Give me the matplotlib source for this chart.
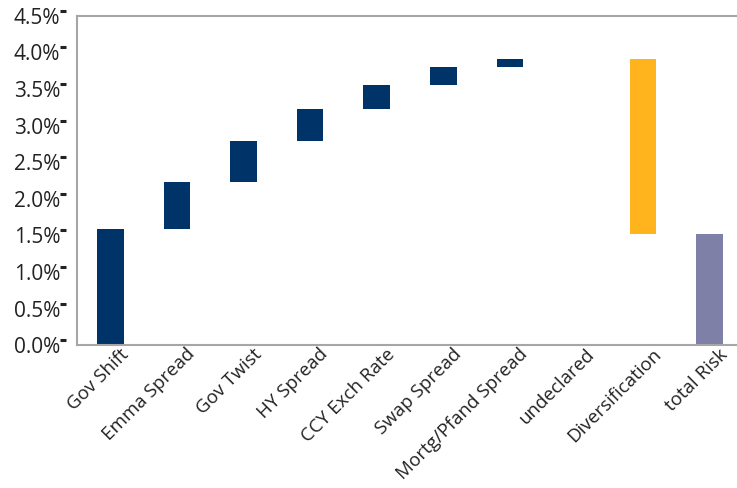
import matplotlib
matplotlib.use("Agg")
import matplotlib.pyplot as plt
import matplotlib.transforms as mtransforms
from matplotlib.ticker import FuncFormatter
import numpy as np

plt.rcParams['font.family'] = ['Open Sans', 'DejaVu Sans']

categories = ["Gov Shift", "Emma Spread", "Gov Twist", "HY Spread", "CCY Exch Rate",
              "Swap Spread", "Mortg/Pfand Spread", "undeclared", "Diversification", "total Risk"]
# contributions in % (waterfall deltas); last item is the total
deltas = [1.59, 0.64, 0.56, 0.43, 0.33, 0.25, 0.11, 0.00, -2.39]
total = 1.52
yticks = [0.0, 0.5, 1.0, 1.5, 2.0, 2.5, 3.0, 3.5, 4.0, 4.5]

c_risk = "#003468"
c_div = "#FFB41E"
c_total = "#7F80A8"

fig = plt.figure(figsize=(7.37, 4.88), dpi=100)
W, H = 737, 488
ax = fig.add_axes([77 / W, (488 - 345.3) / H, (743 - 77) / W, (345.3 - 15.7) / H])

cum = 0.0
for i, d in enumerate(deltas):
    if d >= 0:
        bottom, height = cum, d
    else:
        bottom, height = cum + d, -d
    color = c_div if d < 0 else c_risk
    if height > 0:
        ax.bar(i, height, bottom=bottom, width=0.4, color=color, zorder=2)
    cum += d
ax.bar(len(deltas), total, bottom=0, width=0.4, color=c_total, zorder=2)

ax.set_xlim(-0.5, len(categories) - 0.5)
ax.set_ylim(0, 4.5)
ax.set_yticks(yticks)
ax.yaxis.set_major_formatter(FuncFormatter(lambda v, p: f"{v:.1f}%"))
ax.tick_params(axis='y', length=0, pad=12, labelsize=15, labelcolor="#222222")

ax.set_xticks(range(len(categories)))
ax.set_xticklabels(categories, rotation=45, ha='right', va='top', rotation_mode='anchor',
                   fontsize=13.5, color="#222222")
ax.tick_params(axis='x', length=0, pad=0)
offset = mtransforms.ScaledTranslation(9 / 100, 0, fig.dpi_scale_trans)
for lbl in ax.get_xticklabels():
    lbl.set_transform(lbl.get_transform() + offset)

for side in ['left', 'bottom', 'top', 'right']:
    ax.spines[side].set_color("#A6A6A6")
    ax.spines[side].set_linewidth(1.5)

# small tick dashes next to the y labels
trans = mtransforms.blended_transform_factory(fig.transFigure, ax.transData)
trans = trans + mtransforms.ScaledTranslation(0, 5 / 100, fig.dpi_scale_trans)
ax.plot([63 / W] * len(yticks), yticks, linestyle='none', marker='_', markersize=4,
        markeredgewidth=2.2, color="#222222", transform=trans, clip_on=False)

fig.savefig("out.png", dpi=100)
